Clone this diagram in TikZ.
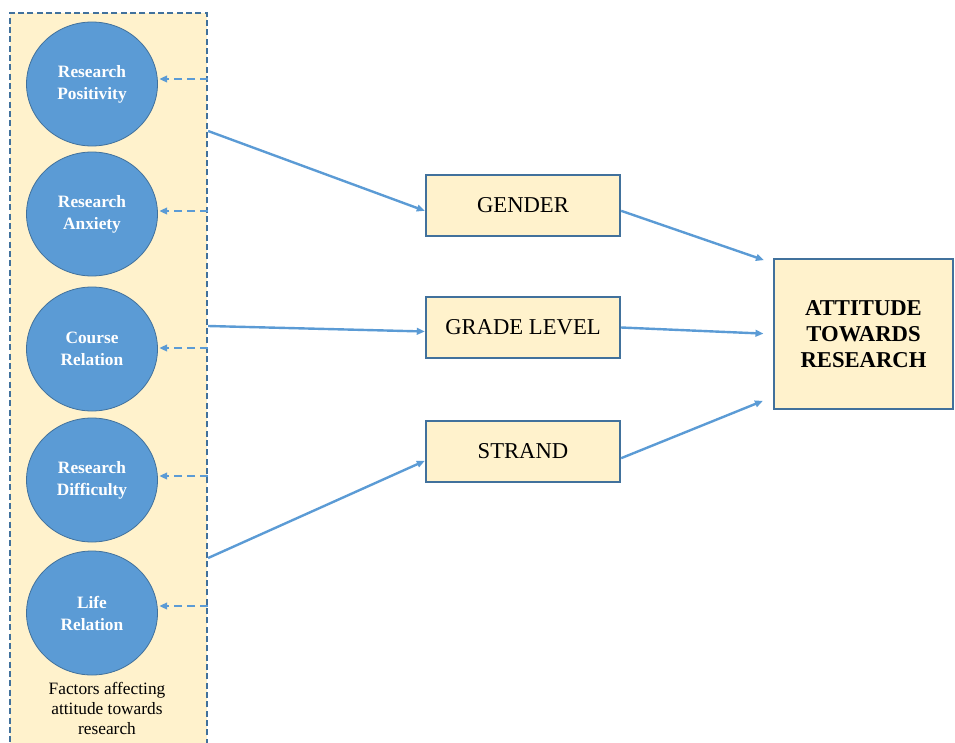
\documentclass[tikz,border=0pt]{standalone}
\usepackage{fontspec}
\setmainfont{Liberation Serif}
\usetikzlibrary{arrows.meta, positioning, shapes.geometric}
\definecolor{boxfill}{HTML}{FFF2CC}
\definecolor{boxline}{HTML}{41719C}
\definecolor{bubble}{HTML}{5B9BD5}
\tikzstyle{line} = [draw=bubble, line width=1.8pt, -{Triangle[length=6pt,width=5pt]}]

\begin{document}
\begin{tikzpicture}[x=0.75pt, y=-0.75pt]
  % Define styles
  \tikzstyle{factorbox} = [rectangle, draw=boxline, fill=boxfill, line width=1.6pt, dash pattern=on 4.5pt off 2.5pt, minimum width=147.75pt, minimum height=555pt, anchor=north west, inner sep=0pt]
  \tikzstyle{factor} = [ellipse, draw=boxline, line width=0.6pt, fill=bubble, minimum width=98.25pt, minimum height=93pt, align=center, text=white, font=\fontsize{13}{16.5}\selectfont\bfseries]
  \tikzstyle{varbox} = [rectangle, draw=boxline, fill=boxfill, line width=1.8pt, minimum width=145.5pt, minimum height=45.75pt, text centered, font=\fontsize{17}{19.5}\selectfont]
  \tikzstyle{outcome} = [varbox, minimum width=134.25pt, minimum height=112.5pt, align=center, font=\fontsize{17}{19.5}\selectfont\bfseries]
  \tikzstyle{feedback} = [draw=bubble, line width=1.5pt, dash pattern=on 6pt off 3.75pt, -{Triangle[length=6pt,width=5pt]}, shorten >=1pt]

  \useasboundingbox (0,0) rectangle (955,742);

  % Place nodes
  \node [factorbox] (factors) at (9,12) {};
  \node [factor] (positivity) at (92,84) {Research\\Positivity};
  \node [factor] (anxiety) at (92,214) {Research\\Anxiety};
  \node [factor] (relation) at (92,349) {Course\\Relation};
  \node [factor] (difficulty) at (92,480) {Research\\Difficulty};
  \node [factor] (life) at (92,613) {Life\\Relation};
  \node [align=center, font=\fontsize{13}{15}\selectfont] (caption) at (107,708) {Factors affecting\\attitude towards\\research};

  \node [varbox] (gender) at (523,205.5) {GENDER};
  \node [varbox] (grade) at (523,327.5) {GRADE LEVEL};
  \node [varbox] (strand) at (523,451.5) {STRAND};
  \node [outcome] (attitude) at (863.5,334) {ATTITUDE\\TOWARDS\\RESEARCH};

  % Anchor points on the factor box
  \coordinate (src1) at (factors.east |- 0,131);
  \coordinate (src2) at (factors.east |- 0,326);
  \coordinate (src3) at (factors.east |- 0,558);

  % Draw edges
  \foreach \c/\y in {positivity/79, anxiety/211, relation/348, difficulty/476, life/606} {
    \coordinate (fb\c) at (factors.east |- 0,\y);
    \draw [feedback] (fb\c) -- (\c.east |- fb\c);
  }
  \path [line] (src1) -- ([yshift=-4pt]gender.west);
  \path [line] (src2) -- ([yshift=-3pt]grade.west);
  \path [line] (src3) -- ([yshift=-7pt]strand.west);
  \path [line, shorten >=7pt] ([yshift=-4pt]gender.east) -- ([yshift=-4pt]attitude.north west);
  \path [line, shorten >=7pt] (grade.east) -- (attitude.west);
  \path [line, shorten >=8pt] ([yshift=-5pt]strand.east) -- ([yshift=10pt]attitude.south west);
\end{tikzpicture}
\end{document}
